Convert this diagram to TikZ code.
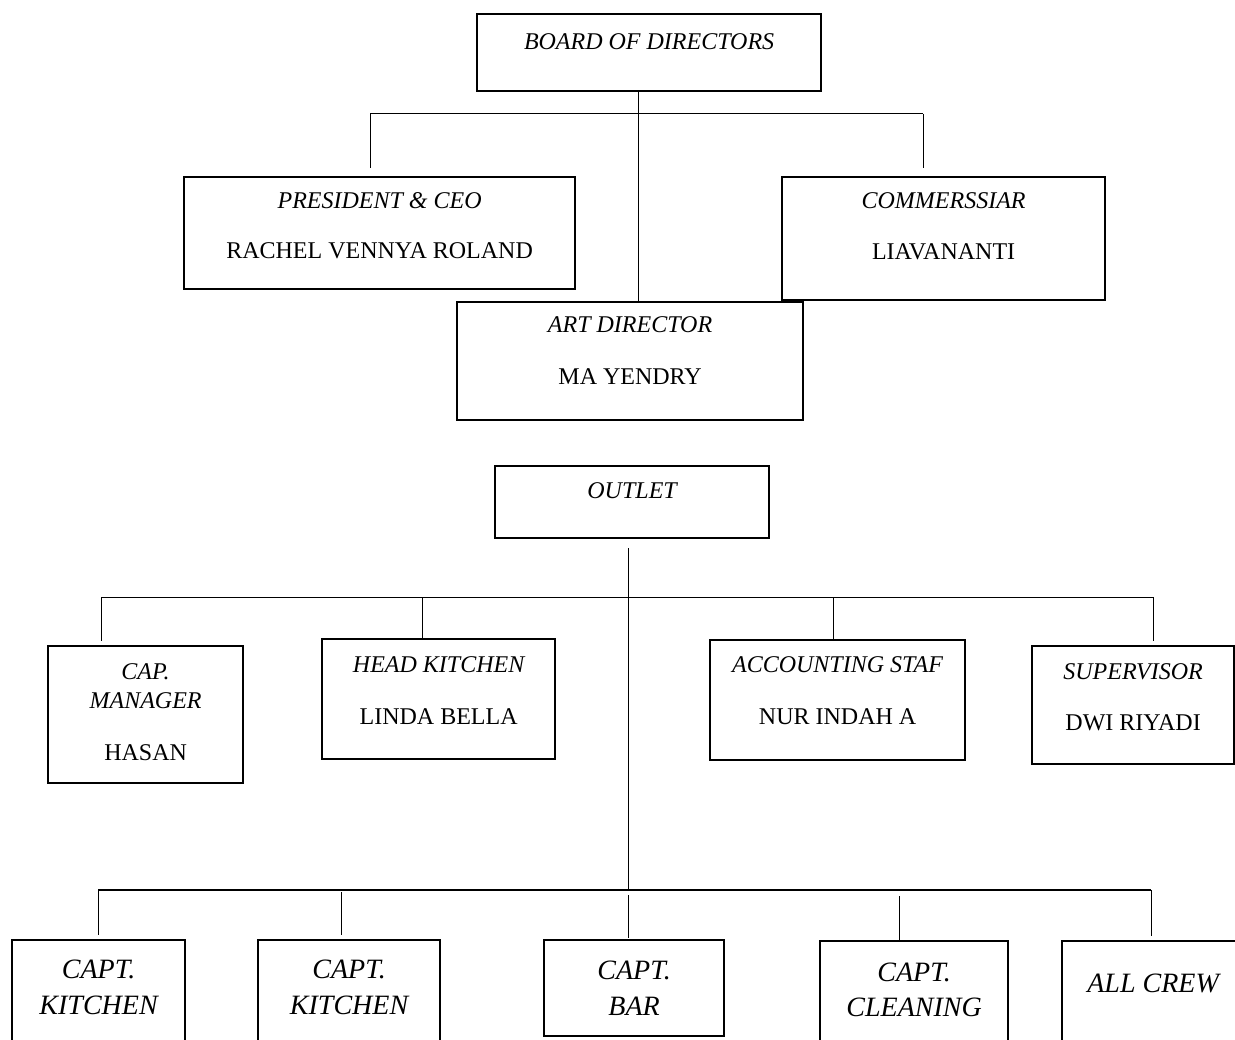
\documentclass[tikz,border=0pt]{standalone}
\usepackage{fontspec}
\setmainfont{Liberation Serif}
\usetikzlibrary{calc}
\tikzset{
  unit/.style={draw=black, line width=2.2pt, inner sep=0pt, anchor=north west},
  link/.style={draw=black, line width=1pt},
  link heavy/.style={draw=black, line width=1.6pt},
  role/.style={anchor=base, inner sep=0pt, font=\fontsize{24}{28}\selectfont\itshape},
  person/.style={anchor=base, inner sep=0pt, font=\fontsize{24}{28}\selectfont},
  crew title/.style={anchor=base, inner sep=0pt, font=\fontsize{28}{33}\selectfont\itshape}
}

\begin{document}
\begin{tikzpicture}[x=1pt,y=-1pt]
  \useasboundingbox (0,0) rectangle (1235,1040);
  \clip (0,0) rectangle (1235,1040);

  % directors
  \node[unit, minimum width=344, minimum height=77,
    label={[role, yshift=-37pt]north:BOARD OF DIRECTORS}] (board) at (476,13) {};
  \node[unit, minimum width=391, minimum height=112,
    label={[role, yshift=-33pt]north:PRESIDENT \& CEO},
    label={[person, yshift=-83pt]north:RACHEL VENNYA ROLAND}] (pres) at (183,176) {};
  \node[unit, minimum width=323, minimum height=123,
    label={[role, yshift=-33pt]north:COMMERSSIAR},
    label={[person, yshift=-84pt]north:LIAVANANTI}] (comm) at (781,176) {};
  \node[unit, minimum width=346, minimum height=118,
    label={[role, yshift=-32pt]north:ART DIRECTOR},
    label={[person, yshift=-84pt]north:MA YENDRY}] (art) at (456,301) {};

  \coordinate (topL) at (370,114);
  \coordinate (topM) at (638,114);
  \coordinate (topR) at (923,114);
  \draw[link] (topL) -- (topR);
  \draw[link] (board.south -| topM) -- (art.north -| topM);
  \draw[link, shorten >=8pt] (topL) -- (topL |- pres.north);
  \draw[link, shorten >=8pt] (topR) -- (topR |- comm.north);

  % outlet
  \node[unit, minimum width=274, minimum height=72,
    label={[role, yshift=-34pt]north:OUTLET}] (outlet) at (494,465) {};
  \node[unit, minimum width=195, minimum height=137,
    label={[role, yshift=-34pt]north:CAP.},
    label={[role, yshift=-63pt]north:MANAGER},
    label={[person, yshift=-115pt]north:HASAN}] (capman) at (47,645) {};
  \node[unit, minimum width=233, minimum height=120,
    label={[role, yshift=-34pt]north:HEAD KITCHEN},
    label={[person, yshift=-86pt]north:LINDA BELLA}] (head) at (321,638) {};
  \node[unit, minimum width=255, minimum height=120,
    label={[role, yshift=-33pt]north:ACCOUNTING STAF},
    label={[person, yshift=-85pt]north:NUR INDAH A}] (acct) at (709,639) {};
  \node[unit, minimum width=202, minimum height=118,
    label={[role, yshift=-34pt]north:SUPERVISOR},
    label={[person, yshift=-85pt]north:DWI RIYADI}] (superv) at (1031,645) {};

  \coordinate (midL) at (101,597);
  \coordinate (mid2) at (422,597);
  \coordinate (mid3) at (833,597);
  \coordinate (midR) at (1153,597);
  \coordinate (crewJ) at (628,890);
  \draw[link, shorten <=9pt] (outlet.south -| crewJ) -- (crewJ);
  \draw[link] (midL) -- (midR);
  \draw[link, shorten >=4pt] (midL) -- (midL |- capman.north);
  \draw[link] (mid2) -- (mid2 |- head.north);
  \draw[link] (mid3) -- (mid3 |- acct.north);
  \draw[link, shorten >=4pt] (midR) -- (midR |- superv.north);

  % crew captains
  \node[unit, minimum width=173, minimum height=121,
    label={[crew title, yshift=-39pt]north:CAPT.},
    label={[crew title, yshift=-75pt]north:KITCHEN}] (kitA) at (11,939) {};
  \node[unit, minimum width=182, minimum height=121,
    label={[crew title, yshift=-39pt]north:CAPT.},
    label={[crew title, yshift=-75pt]north:KITCHEN}] (kitB) at (257,939) {};
  \node[unit, minimum width=180, minimum height=96,
    label={[crew title, yshift=-40pt]north:CAPT.},
    label={[crew title, yshift=-76pt]north:BAR}] (bar) at (543,939) {};
  \node[unit, minimum width=188, minimum height=120,
    label={[crew title, yshift=-41pt]north:CAPT.},
    label={[crew title, yshift=-76pt]north:CLEANING}] (clean) at (819,940) {};
  \node[unit, minimum width=182, minimum height=120,
    label={[crew title, yshift=-52pt]north:ALL CREW}] (allcrew) at (1061,940) {};

  \coordinate (lowL) at (98,890);
  \coordinate (low2) at (341,890);
  \coordinate (low4) at (899,890);
  \coordinate (lowR) at (1151,890);
  \draw[link heavy] (lowL) -- (lowR);
  \draw[link, shorten >=4pt] (lowL) -- (lowL |- kitA.north);
  \draw[link, shorten <=2pt, shorten >=4pt] (low2) -- (low2 |- kitB.north);
  \draw[link, shorten <=5pt, shorten >=1pt] (crewJ) -- (crewJ |- bar.north);
  \draw[link, shorten <=6pt] (low4) -- (low4 |- clean.north);
  \draw[link, shorten >=4pt] (lowR) -- (lowR |- allcrew.north);
\end{tikzpicture}
\end{document}
